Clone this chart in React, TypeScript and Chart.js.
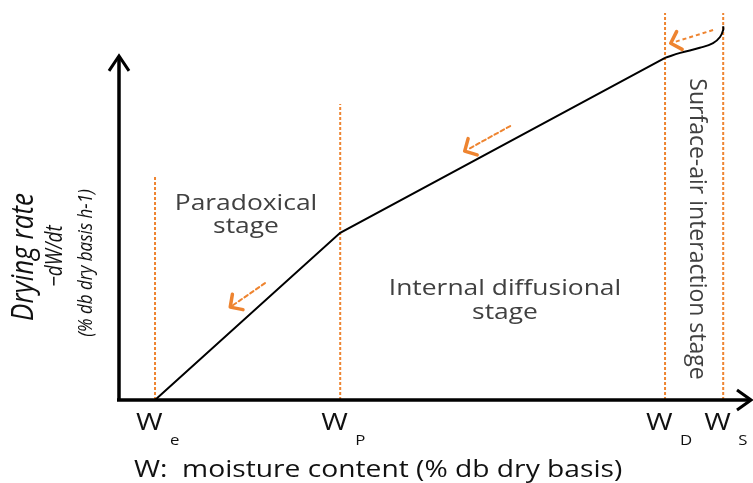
import React, { useEffect, useRef } from 'react';
import { Chart, registerables } from 'chart.js';

Chart.register(...registerables);

// Moisture content positions of the stage boundaries (We, Wp, WD, WS)
const stageX = [5.7, 35.0, 86.4, 95.6];
const stageSub = ['e', 'P', 'D', 'S'];
const guideTop = [57.6, 76.5, 100, 100];

// Drying-rate curve
const rateX = [5.7, 35.0, 86.4];
const rateY = [0, 43.2, 88.4];
const surfaceX = [86.4, 88.8, 91.9, 94.0, 95.1, 95.6, 95.6];
const surfaceY = [88.4, 89.7, 91.0, 92.2, 93.8, 95.6, 96.6];

// Direction arrows (tail -> head)
const arrowFromX = [94.0, 61.9, 23.1];
const arrowFromY = [95.6, 70.8, 30.2];
const arrowToX = [87.3, 54.7, 17.6];
const arrowToY = [92.2, 64.3, 24.0];

const yAxisTop = 88.9;

const ORANGE = '#EE8430';
const TEXT = '#404040';
const FONT = '"Open Sans", "Noto Sans", sans-serif';
const SX = 1.2; // horizontal stretch of the original artwork

function stretchedText(ctx: any, text: string, x: number, y: number, align: string) {
  ctx.save();
  ctx.translate(x, y);
  ctx.scale(SX, 1);
  ctx.textAlign = align;
  ctx.fillText(text, 0, 0);
  ctx.restore();
}

const drawPlugin = {
  id: 'schematic',
  afterDatasetsDraw(chart: any) {
    const { ctx } = chart;
    const xs = chart.scales.x;
    const ys = chart.scales.y;
    const px = (v: number) => xs.getPixelForValue(v);
    const py = (v: number) => ys.getPixelForValue(v);
    ctx.save();

    // arrows
    for (let i = 0; i < arrowFromX.length; i++) {
      const x1 = px(arrowFromX[i]), y1 = py(arrowFromY[i]);
      const x2 = px(arrowToX[i]), y2 = py(arrowToY[i]);
      const back = Math.atan2(y1 - y2, x1 - x2);
      ctx.strokeStyle = ORANGE;
      ctx.lineWidth = 2;
      ctx.setLineDash([4, 3]);
      ctx.beginPath();
      ctx.moveTo(x1, y1);
      ctx.lineTo(x2 + 3 * Math.cos(back), y2 + 3 * Math.sin(back));
      ctx.stroke();
      ctx.setLineDash([]);
      const ang = Math.atan2(y2 - y1, x2 - x1);
      const L = 13;
      ctx.lineWidth = 3.5;
      ctx.lineCap = 'round';
      ctx.lineJoin = 'round';
      ctx.beginPath();
      ctx.moveTo(x2 - L * Math.cos(ang - 0.8), y2 - L * Math.sin(ang - 0.8));
      ctx.lineTo(x2, y2);
      ctx.lineTo(x2 - L * Math.cos(ang + 0.8), y2 - L * Math.sin(ang + 0.8));
      ctx.stroke();
    }

    // axes
    ctx.strokeStyle = '#000';
    ctx.lineWidth = 3.5;
    ctx.lineCap = 'butt';
    ctx.lineJoin = 'miter';
    const ox = px(0), oy = py(0);
    ctx.beginPath();
    ctx.moveTo(ox, oy + 1.5);
    ctx.lineTo(ox, py(yAxisTop));
    ctx.moveTo(ox - 2, oy);
    ctx.lineTo(px(100), oy);
    ctx.stroke();
    ctx.lineWidth = 3;
    const ty = py(yAxisTop);
    ctx.beginPath();
    ctx.moveTo(ox - 10, ty + 15);
    ctx.lineTo(ox, ty);
    ctx.lineTo(ox + 10, ty + 15);
    ctx.stroke();
    const tx = px(100);
    ctx.beginPath();
    ctx.moveTo(tx - 14, oy - 10);
    ctx.lineTo(tx, oy);
    ctx.lineTo(tx - 14, oy + 10);
    ctx.stroke();

    // stage texts
    ctx.fillStyle = TEXT;
    ctx.textBaseline = 'alphabetic';
    ctx.font = `22px ${FONT}`;
    stretchedText(ctx, 'Paradoxical', 246, 210, 'center');
    stretchedText(ctx, 'stage', 246, 233, 'center');
    stretchedText(ctx, 'Internal diffusional', 505, 295, 'center');
    stretchedText(ctx, 'stage', 505, 319, 'center');

    ctx.save();
    ctx.translate(697, 229);
    ctx.rotate(Math.PI / 2);
    ctx.textAlign = 'center';
    ctx.textBaseline = 'middle';
    ctx.font = `23px ${FONT}`;
    ctx.fillText('Surface-air interaction stage', 0, 0);
    ctx.restore();

    // y axis title
    const vText = (t: string, x: number, y: number, f: string) => {
      ctx.save();
      ctx.translate(x, y);
      ctx.rotate(-Math.PI / 2);
      ctx.scale(1, SX);
      ctx.textAlign = 'center';
      ctx.textBaseline = 'middle';
      ctx.fillStyle = '#111';
      ctx.font = f;
      ctx.fillText(t, 0, 0);
      ctx.restore();
    };
    vText('Drying rate', 24, 257, `italic 26px ${FONT}`);
    vText('\u2212dW/dt', 56, 256, `italic 19px ${FONT}`);
    vText('(% db dry basis h-1)', 86, 263, `italic 17px ${FONT}`);

    // x markers
    ctx.fillStyle = '#111';
    for (let i = 0; i < stageX.length; i++) {
      const x = px(stageX[i]);
      ctx.font = `24px ${FONT}`;
      stretchedText(ctx, 'W', x - 19, 430, 'left');
      ctx.font = `14px ${FONT}`;
      stretchedText(ctx, stageSub[i], x + 15, 445, 'left');
    }
    ctx.font = `23.5px ${FONT}`;
    stretchedText(ctx, 'W:  moisture content (% db dry basis)', 134, 477, 'left');

    ctx.restore();
  },
};

export default function App() {
  const ref = useRef<HTMLCanvasElement>(null);
  useEffect(() => {
    if (!ref.current) return;
    const guideSets = stageX.map((x, i) => ({
      data: [
        { x, y: 0 },
        { x, y: guideTop[i] },
      ],
      borderColor: ORANGE,
      borderWidth: 2,
      borderDash: [3, 2],
      pointRadius: 0,
      clip: false as any,
      tension: 0,
    }));
    const chart = new Chart(ref.current, {
      type: 'line',
      data: {
        datasets: [
          {
            data: rateX.map((x, i) => ({ x, y: rateY[i] })),
            borderColor: '#000',
            borderWidth: 2,
            pointRadius: 0,
            tension: 0,
            clip: false as any,
          },
          {
            data: surfaceX.map((x, i) => ({ x, y: surfaceY[i] })),
            borderColor: '#000',
            borderWidth: 2,
            pointRadius: 0,
            tension: 0.4,
            clip: false as any,
          },
          ...guideSets,
        ],
      },
      options: {
        responsive: false,
        animation: false,
        layout: { padding: { left: 119, right: 2, top: 13, bottom: 83 } },
        plugins: { legend: { display: false }, tooltip: { enabled: false } },
        scales: {
          x: { type: 'linear', min: 0, max: 100, display: false },
          y: { type: 'linear', min: 0, max: 100, display: false },
        },
      },
      plugins: [drawPlugin],
    });
    return () => chart.destroy();
  }, []);
  return (
    <div style={{ position: 'absolute', left: 0, top: 0, width: 753, height: 483, background: '#fff' }}>
      <canvas ref={ref} width={753} height={483} />
    </div>
  );
}
